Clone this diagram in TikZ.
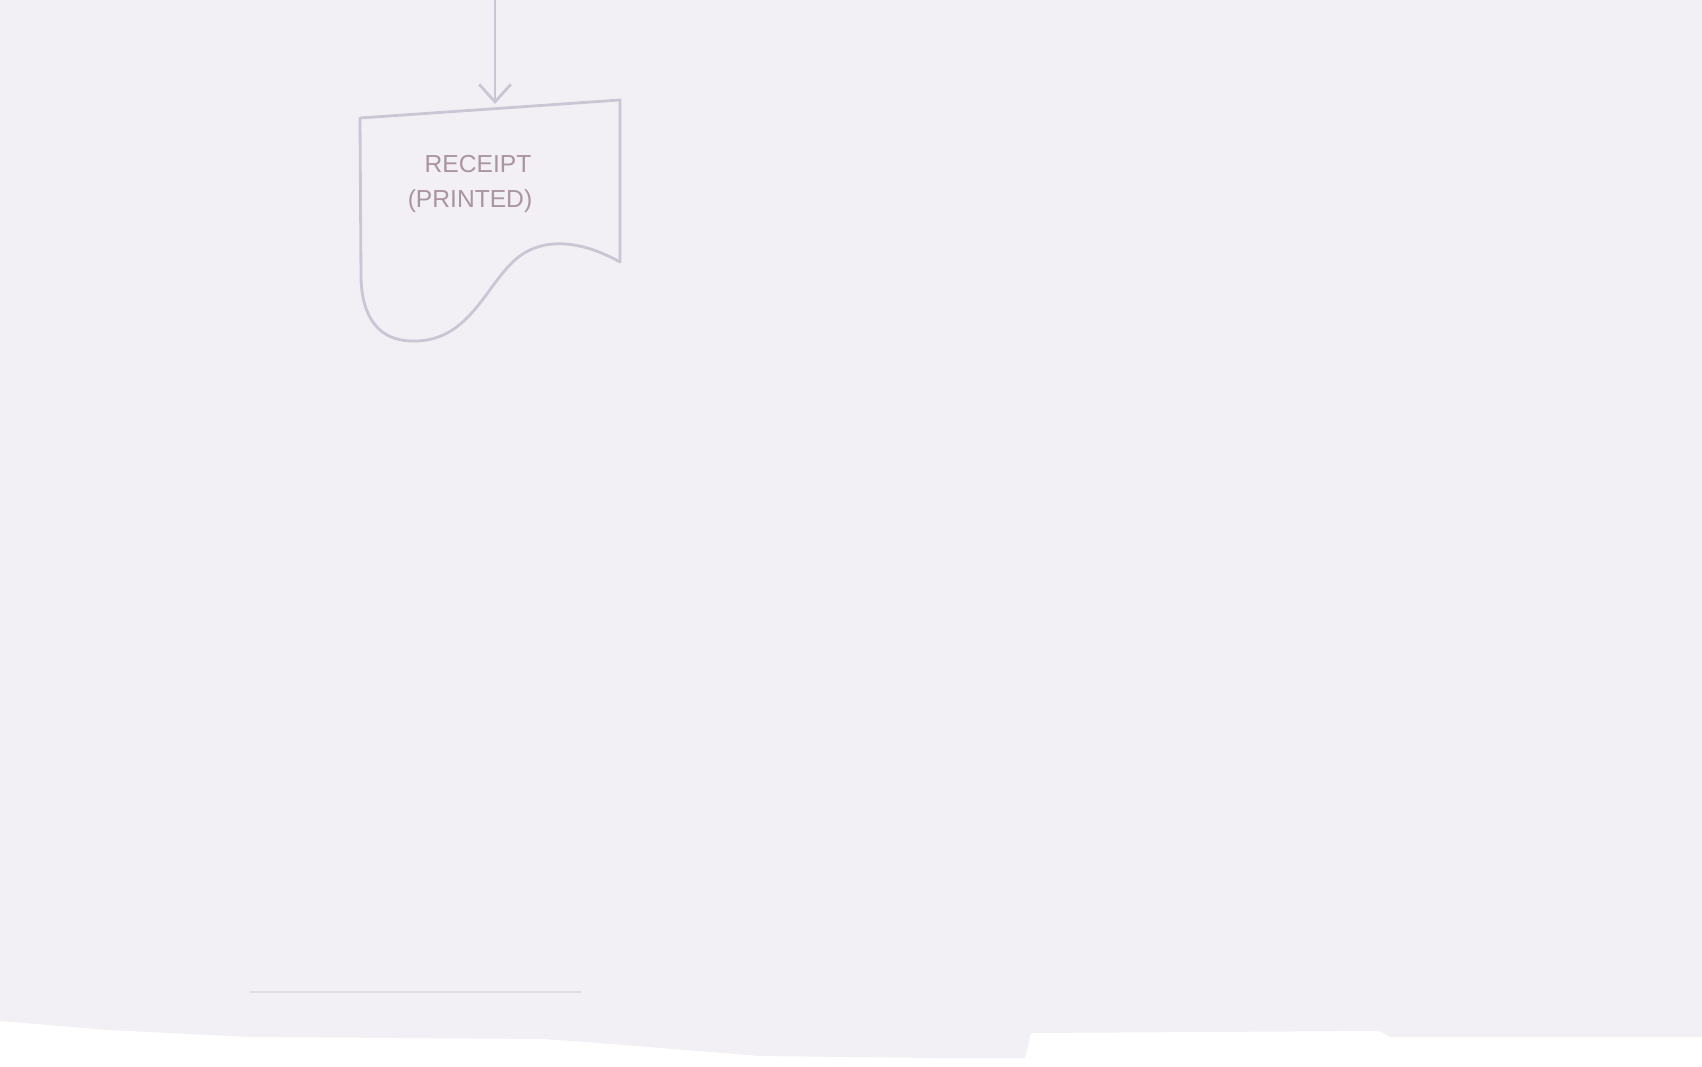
\documentclass[tikz,border=0pt]{standalone}
\usepackage{fontspec}
\setsansfont{Liberation Sans}
\usetikzlibrary{arrows.meta}
\definecolor{paper}{RGB}{242,240,245}
\definecolor{pencil}{RGB}{204,197,211}
\definecolor{ink}{RGB}{170,148,160}
\tikzset{
  pencilline/.style={draw=pencil, line width=0.8pt, line cap=round, line join=round},
  scribble/.style={text=ink, font=\sffamily\fontsize{7}{8}\selectfont, inner sep=0pt},
}
\begin{document}
\begin{tikzpicture}[x=0.01cm,y=-0.01cm]
  \useasboundingbox (0,0) rectangle (1702,1067);
  % sheet of paper, torn lower edge
  \fill[white] (0,0) rectangle (1702,1067);
  \fill[paper] (0,0) -- (1702,0) -- (1702,1037) -- (1390,1037) -- (1380,1031)
    -- (1031,1033) -- (1025,1058) -- (934,1058) -- (760,1056) -- (586,1042)
    -- (543,1039) -- (250,1037) -- (108,1030) -- (0,1021) -- cycle;
  \draw[pencil!60, line width=0.6pt] (250,992) -- (581,992);
  % receipt document
  \coordinate (in) at (495,0);
  \coordinate (doctop) at (495,104);
  \draw[pencilline] (360,118) -- (620,100) -- (620,262)
    .. controls (595,248) and (560,236) .. (530,250)
    .. controls (490,268) and (478,338) .. (418,341)
    .. controls (376,343) and (362,314) .. (361,278) -- cycle;
  \draw[pencilline, -{Straight Barb[length=5pt,width=9pt]}] (in) -- (doctop);
  \node[scribble] (receipt) at (478,164) {RECEIPT};
  \node[scribble] (printed) at (470,201) {(PRINTED)};
\end{tikzpicture}
\end{document}
